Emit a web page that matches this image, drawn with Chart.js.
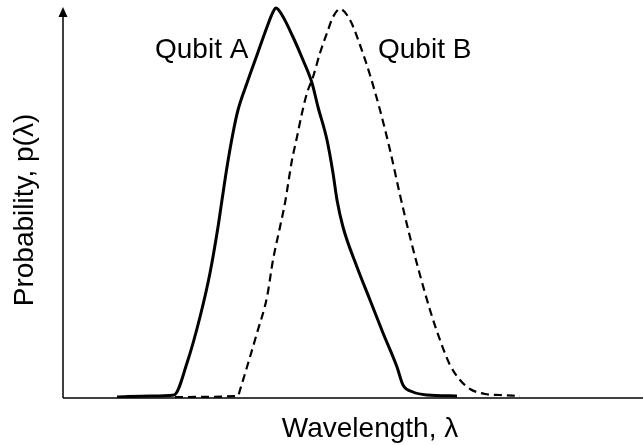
<!DOCTYPE html>
<html lang="en">
<head>
  <meta charset="UTF-8"/>
  <title>Qubit A / Qubit B – p(λ)</title>
  <script src="https://cdn.jsdelivr.net/npm/chart.js"></script>
  <style>
    body { margin:0; padding:0; background:#fff; }
    #wrap { width:643px; height:445px; }
  </style>
</head>
<body>
<div id="wrap"><canvas id="qubitChart" width="643" height="445"></canvas></div>

<script>
  // wavelength (arbitrary units) and probability (arbitrary units)
  const qubitA_x = [54, 87, 111, 124, 137, 147, 155, 159, 164, 170, 175, 184, 194, 204, 210, 213, 219, 230, 240, 249, 255, 264, 270, 274, 280, 294, 307, 320, 334, 340, 350, 364, 394];
  const qubitA_y = [1, 2, 3, 35, 81, 125, 171, 198, 231, 265, 288, 315, 343, 371, 386, 390, 383, 361, 338, 315, 291, 258, 225, 198, 171, 131, 98, 65, 31, 13, 6, 3, 2];

  const qubitB_x = [112, 175, 177, 184, 194, 204, 210, 217, 222, 229, 234, 239, 244, 250, 257, 264, 270, 277, 287, 297, 307, 317, 327, 337, 347, 357, 367, 377, 387, 397, 407, 422, 437, 457];
  const qubitB_y = [1, 2, 8, 31, 65, 101, 138, 171, 195, 238, 261, 285, 305, 321, 345, 365, 381, 389, 378, 353, 323, 288, 248, 203, 161, 123, 88, 58, 33, 18, 9, 4, 3, 2];

  const seriesNames = ['Qubit A', 'Qubit B'];
  const xTitle = 'Wavelength, λ';
  const yTitle = 'Probability, p(λ)';

  const FONT = '28px "Liberation Sans", Arial, sans-serif';

  const toPts = (xs, ys) => xs.map((x, i) => ({x: x, y: ys[i]}));

  // axes with arrows + titles + curve labels
  const decor = {
    id: 'decor',
    afterDraw(chart) {
      const ctx = chart.ctx, a = chart.chartArea;
      ctx.save();
      ctx.strokeStyle = '#000'; ctx.fillStyle = '#000'; ctx.lineWidth = 1.5;
      // y axis
      ctx.beginPath(); ctx.moveTo(a.left, a.bottom); ctx.lineTo(a.left, a.top + 8); ctx.stroke();
      ctx.beginPath(); ctx.moveTo(a.left, a.top + 1); ctx.lineTo(a.left - 4.5, a.top + 11); ctx.lineTo(a.left + 4.5, a.top + 11); ctx.closePath(); ctx.fill();
      // x axis
      ctx.beginPath(); ctx.moveTo(a.left, a.bottom); ctx.lineTo(a.right, a.bottom); ctx.stroke();

      ctx.font = FONT;
      ctx.textBaseline = 'alphabetic';
      ctx.textAlign = 'left';
      ctx.fillText(seriesNames[0], 155, 58);
      ctx.fillText(seriesNames[1], 378, 58);

      ctx.textAlign = 'center';
      ctx.fillText(xTitle, 370, 437);

      ctx.translate(33, 210);
      ctx.rotate(-Math.PI / 2);
      ctx.fillText(yTitle, 0, 0);
      ctx.restore();
    }
  };

  new Chart(document.getElementById('qubitChart'), {
    type: 'line',
    data: {
      datasets: [
        {label: seriesNames[0], data: toPts(qubitA_x, qubitA_y), borderColor: '#000', borderWidth: 3,
         pointRadius: 0, cubicInterpolationMode: 'monotone', borderJoinStyle: 'round', fill: false},
        {label: seriesNames[1], data: toPts(qubitB_x, qubitB_y), borderColor: '#000', borderWidth: 2.2,
         borderDash: [8, 5], pointRadius: 0, cubicInterpolationMode: 'monotone', fill: false}
      ]
    },
    options: {
      responsive: false,
      animation: false,
      layout: {padding: {left: 63, right: 0, top: 6, bottom: 47}},
      plugins: {legend: {display: false}, tooltip: {enabled: false}},
      scales: {
        x: {type: 'linear', min: 0, max: 580, display: false},
        y: {type: 'linear', min: 0, max: 392, display: false}
      }
    },
    plugins: [decor]
  });
</script>
</body>
</html>
